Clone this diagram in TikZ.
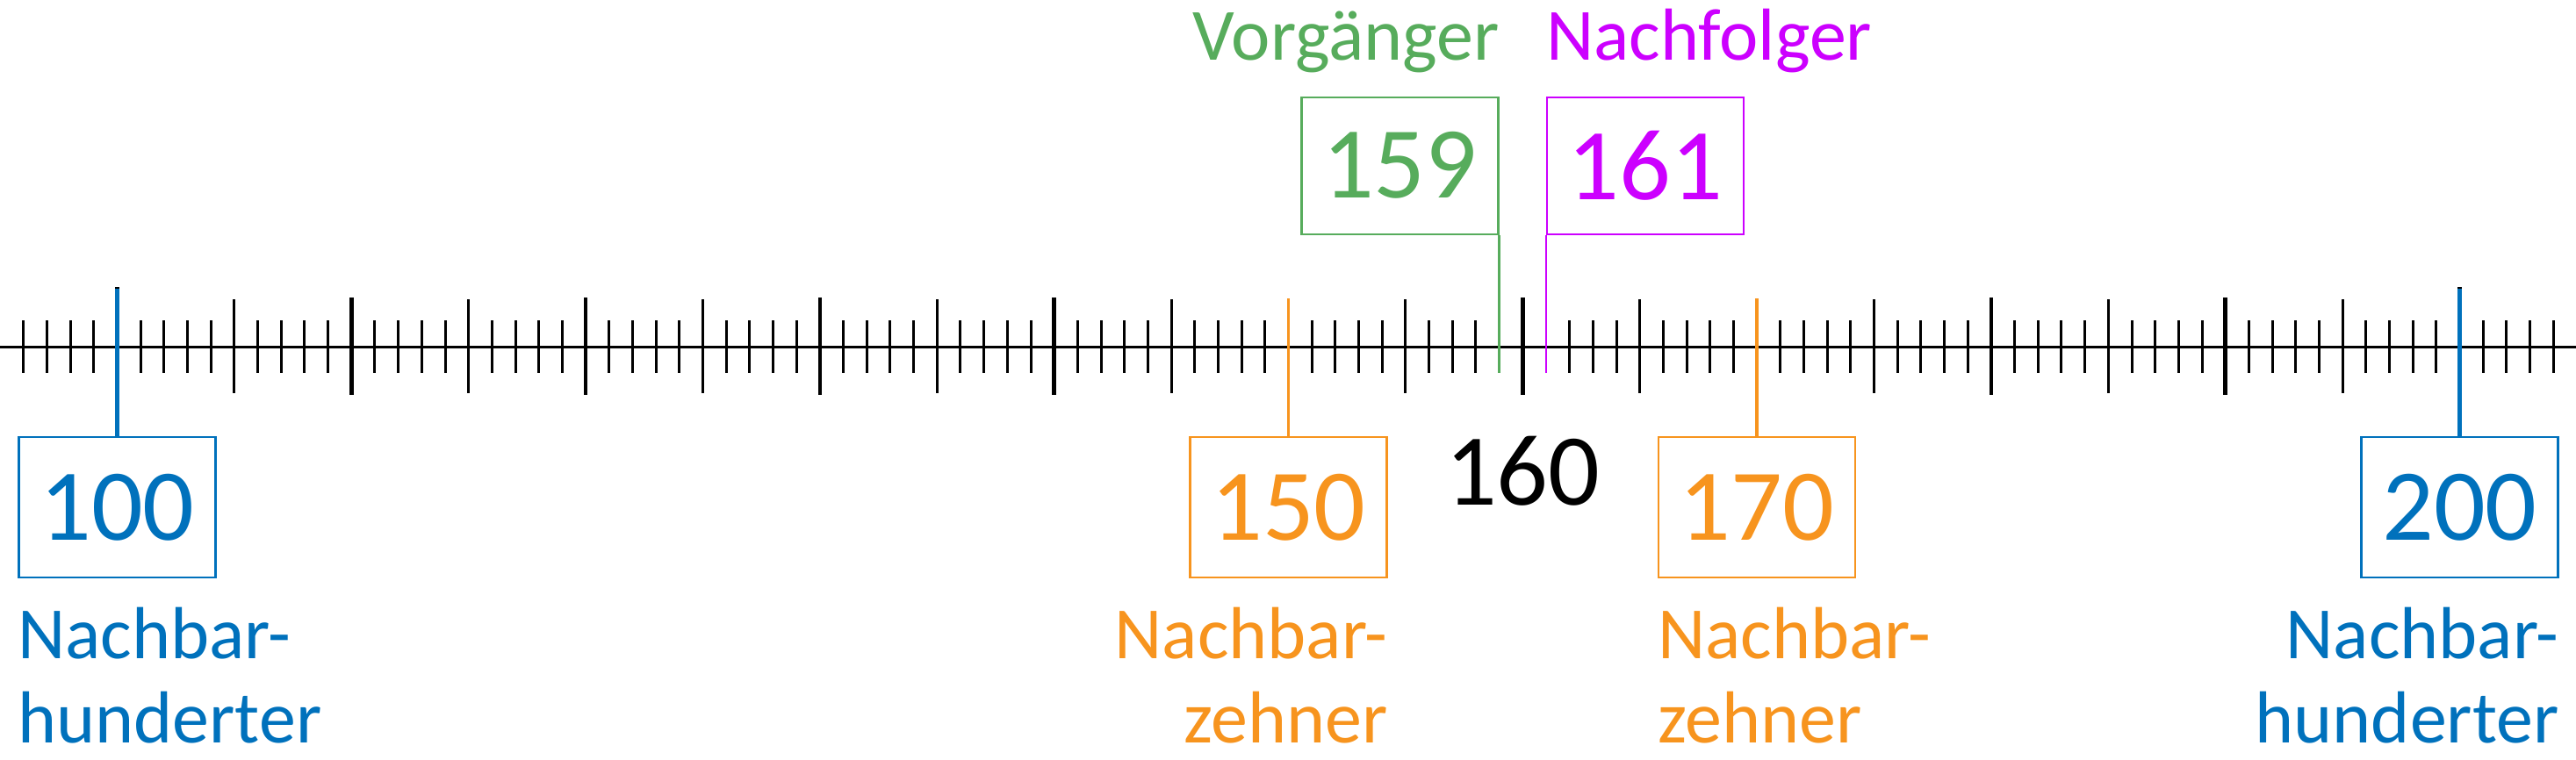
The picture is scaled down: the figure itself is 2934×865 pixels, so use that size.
\documentclass[tikz,border=0pt]{standalone}
\usepackage{fontspec}
\setmainfont{Carlito}
\definecolor{nbBlue}{RGB}{0,113,188}
\definecolor{nbOrange}{RGB}{247,148,30}
\definecolor{nbGreen}{RGB}{87,172,92}
\definecolor{nbMagenta}{RGB}{204,0,255}
\tikzset{
  numbox/.style={draw, line width=2.5pt, minimum width=224pt, minimum height=160pt, inner sep=0pt,
     font=\fontsize{116}{120}\selectfont},
  topbox/.style={numbox, minimum height=156pt},
  lbl/.style={inner sep=0pt, font=\fontsize{84}{96}\selectfont},
  minortick/.style={line width=3pt},
  fivetick/.style={line width=3pt},
  tentick/.style={line width=4.5pt},
  axisline/.style={line width=3pt},
  blueconn/.style={nbBlue, line width=4.5pt},
  orangeconn/.style={nbOrange, line width=3.5pt},
  thinconn/.style={line width=2.6pt},
}
\begin{document}
\begin{tikzpicture}[x=1pt,y=-1pt]
\useasboundingbox (0,0) rectangle (2934,865);
% axis
\draw[axisline] (0,395) -- (2934,395);
% ticks
\foreach \v in {96,...,204}{
  \pgfmathtruncatemacro{\m}{mod(\v,5)}
  \pgfmathtruncatemacro{\t}{mod(\v,10)}
  \pgfmathsetmacro{\xx}{133.5+(\v-100)*26.68}
  \ifnum\v=159\relax\else\ifnum\v=161\relax\else\ifnum\v=150\relax\else\ifnum\v=170\relax\else
  \ifnum\v=100 \draw[tentick] (\xx,327) -- (\xx,463);\else
  \ifnum\v=200 \draw[tentick] (\xx,327) -- (\xx,463);\else
  \ifnum\m=0
    \ifnum\t=0 \draw[tentick] (\xx,339) -- (\xx,450);\else \draw[fivetick] (\xx,341) -- (\xx,448);\fi
  \else
    \draw[minortick] (\xx,365) -- (\xx,425);
  \fi\fi\fi\fi\fi\fi\fi
}
% coordinates on the axis
\coordinate (t100) at (133.5,329);
\coordinate (t200) at (2801.5,329);
\coordinate (t150) at (1467.5,340);
\coordinate (t170) at (2001.1,340);
\coordinate (t159) at (1707.6,425);
\coordinate (t161) at (1760.9,425);
% boxes
\node[numbox, draw=nbBlue, text=nbBlue] (b100) at (133.5,578) {100};
\node[numbox, draw=nbBlue, text=nbBlue] (b200) at (2801.5,578) {200};
\node[numbox, draw=nbOrange, text=nbOrange] (b150) at (1467.5,578) {150};
\node[numbox, draw=nbOrange, text=nbOrange] (b170) at (2001.1,578) {170};
\node[topbox, draw=nbGreen, text=nbGreen, anchor=south east] (b159) at (1707.6,268) {159};
\node[topbox, draw=nbMagenta, text=nbMagenta, anchor=south west] (b161) at (1760.9,268) {161};
% connectors
\draw[blueconn] (t100) -- (b100.north);
\draw[blueconn] (t200) -- (b200.north);
\draw[orangeconn] (t150) -- (b150.north);
\draw[orangeconn] (t170) -- (b170.north);
\draw[thinconn, nbGreen] (b159.south east) -- (t159);
\draw[thinconn, nbMagenta] (b161.south west) -- (t161);
% 160
\node[inner sep=0pt, font=\fontsize{116}{120}\selectfont, anchor=base] (n160) at (1734.3,575) {160};
% top labels
\node[lbl, text=nbGreen, anchor=base east] (lvor) at (1707.6,68) {Vorgänger};
\node[lbl, text=nbMagenta, anchor=base west] (lnach) at (1760.9,68) {Nachfolger};
% bottom labels
\node[lbl, text=nbBlue, anchor=base west] (l100a) at ([yshift=-91pt]b100.south west) {Nachbar-};
\node[lbl, text=nbBlue, anchor=base west] (l100b) at ([yshift=-187pt]b100.south west) {hunderter};
\node[lbl, text=nbOrange, anchor=base east] (l150a) at ([yshift=-91pt]b150.south east) {Nachbar-};
\node[lbl, text=nbOrange, anchor=base east] (l150b) at ([yshift=-187pt]b150.south east) {zehner};
\node[lbl, text=nbOrange, anchor=base west] (l170a) at ([yshift=-91pt]b170.south west) {Nachbar-};
\node[lbl, text=nbOrange, anchor=base west] (l170b) at ([yshift=-187pt]b170.south west) {zehner};
\node[lbl, text=nbBlue, anchor=base east] (l200a) at ([yshift=-91pt]b200.south east) {Nachbar-};
\node[lbl, text=nbBlue, anchor=base east] (l200b) at ([yshift=-187pt]b200.south east) {hunderter};
\end{tikzpicture}
\end{document}
